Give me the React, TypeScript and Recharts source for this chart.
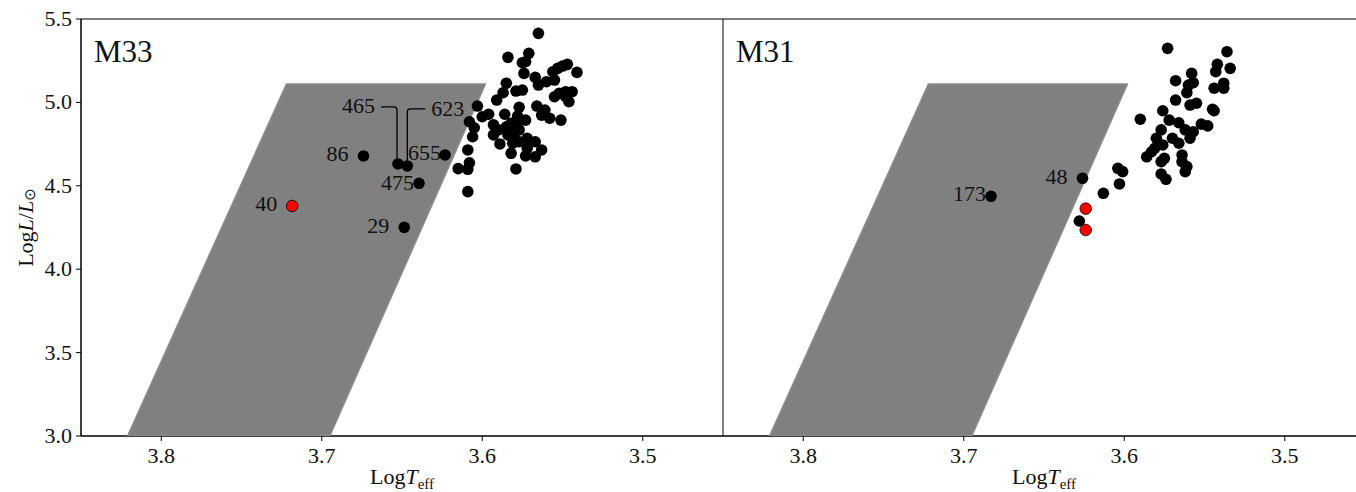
import React from 'react';
import { ScatterChart, Scatter, XAxis, YAxis, Customized, ReferenceArea } from 'recharts';

const xTicks = [3.8, 3.7, 3.6, 3.5];
const yTicks = [3.0, 3.5, 4.0, 4.5, 5.0, 5.5];
const xDomain: [number, number] = [3.45, 3.85];
const yDomain: [number, number] = [3.0, 5.5];

// grey band (vertices)
const bandTeff = [3.821, 3.722, 3.598, 3.695];
const bandLogL = [3.0, 5.11, 5.11, 3.0];

// M33
const m33ClusterTeff = [3.565, 3.584, 3.571, 3.575, 3.573, 3.574, 3.567, 3.565, 3.560, 3.556, 3.553, 3.550, 3.547, 3.541, 3.555, 3.585, 3.587, 3.579, 3.575, 3.591, 3.603, 3.600, 3.596, 3.577, 3.586, 3.578, 3.566, 3.561, 3.563, 3.558, 3.551, 3.555, 3.552, 3.548, 3.544, 3.546, 3.548, 3.608, 3.605, 3.606, 3.593, 3.593, 3.590, 3.585, 3.582, 3.579, 3.573, 3.584, 3.580, 3.577, 3.572, 3.589, 3.581, 3.582, 3.577, 3.567, 3.572, 3.573, 3.567, 3.563, 3.609, 3.608, 3.615, 3.609, 3.579, 3.609];
const m33ClusterLogL = [5.414, 5.270, 5.294, 5.238, 5.244, 5.174, 5.150, 5.104, 5.124, 5.184, 5.204, 5.218, 5.228, 5.180, 5.134, 5.115, 5.058, 5.068, 5.074, 5.014, 4.978, 4.914, 4.929, 4.971, 4.929, 4.918, 4.978, 4.954, 4.924, 4.905, 4.894, 5.034, 5.055, 5.064, 5.064, 5.004, 5.034, 4.884, 4.848, 4.794, 4.865, 4.805, 4.835, 4.854, 4.875, 4.865, 4.894, 4.805, 4.815, 4.835, 4.785, 4.751, 4.755, 4.695, 4.764, 4.764, 4.725, 4.679, 4.674, 4.715, 4.715, 4.638, 4.603, 4.599, 4.601, 4.465];
const m33LabeledNames = ['86', '465', '623', '655', '475', '29'];
const m33LabeledTeff = [3.674, 3.6525, 3.6467, 3.6232, 3.6394, 3.6486];
const m33LabeledLogL = [4.679, 4.631, 4.619, 4.685, 4.515, 4.251];
const m33RedNames = ['40'];
const m33RedTeff = [3.7184];
const m33RedLogL = [4.379];

// M31
const m31ClusterTeff = [3.573, 3.536, 3.542, 3.543, 3.534, 3.558, 3.557, 3.560, 3.568, 3.538, 3.544, 3.538, 3.561, 3.568, 3.559, 3.555, 3.545, 3.544, 3.576, 3.590, 3.572, 3.566, 3.562, 3.552, 3.548, 3.557, 3.577, 3.580, 3.581, 3.576, 3.583, 3.586, 3.570, 3.566, 3.559, 3.577, 3.575, 3.564, 3.564, 3.561, 3.562, 3.577, 3.574, 3.604, 3.601, 3.603, 3.613, 3.628];
const m31ClusterLogL = [5.324, 5.304, 5.228, 5.184, 5.204, 5.174, 5.118, 5.104, 5.130, 5.115, 5.085, 5.085, 5.058, 5.014, 4.984, 4.995, 4.959, 4.950, 4.950, 4.899, 4.894, 4.878, 4.835, 4.870, 4.859, 4.824, 4.835, 4.785, 4.725, 4.745, 4.704, 4.674, 4.785, 4.755, 4.785, 4.645, 4.665, 4.685, 4.645, 4.615, 4.585, 4.571, 4.539, 4.605, 4.585, 4.511, 4.455, 4.289];
const m31LabeledNames = ['173', '48'];
const m31LabeledTeff = [3.683, 3.626];
const m31LabeledLogL = [4.437, 4.545];
const m31RedNames = ['', ''];
const m31RedTeff = [3.624, 3.624];
const m31RedLogL = [4.363, 4.235];

type Pt = { teff: number; logL: number; name?: string };
const zip = (t: number[], l: number[], n?: string[]): Pt[] =>
  t.map((v, i) => ({ teff: v, logL: l[i], name: n ? n[i] : undefined }));

const bandData = zip(bandTeff, bandLogL);

const FONT = '"Liberation Serif", "DejaVu Serif", serif';
const serifStyle = { fontFamily: FONT };

// label placement (style, relative to the point)
const labelStyle: Record<string, { anchor: 'end' | 'start'; dx: number; dy: number; connector?: 'left' | 'right' }> = {
  '86': { anchor: 'end', dx: -15, dy: -2 },
  '29': { anchor: 'end', dx: -15, dy: -2 },
  '40': { anchor: 'end', dx: -15, dy: -2 },
  '48': { anchor: 'end', dx: -15, dy: -2 },
  '475': { anchor: 'end', dx: -5, dy: -1 },
  '655': { anchor: 'end', dx: -4, dy: -2 },
  '173': { anchor: 'end', dx: -5, dy: -3 },
  '465': { anchor: 'end', dx: -23, dy: -58, connector: 'left' },
  '623': { anchor: 'start', dx: 24, dy: -57, connector: 'right' },
};

const makeDot = (fill: string, stroke: string, sw: number) => (props: any) => {
  const { cx, cy, payload } = props;
  if (cx == null || cy == null) return <g />;
  const name: string | undefined = payload?.name;
  const st = name ? labelStyle[name] : undefined;
  let conn: React.ReactNode = null;
  if (st?.connector === 'left') {
    const y = cy - 57;
    conn = <path d={`M${cx - 17},${y} H${cx - 4} Q${cx - 1},${y} ${cx - 1},${y + 3} V${cy}`} stroke="#000" fill="none" strokeWidth={1.3} />;
  } else if (st?.connector === 'right') {
    const y = cy - 57;
    conn = <path d={`M${cx + 18},${y} H${cx + 3} Q${cx},${y} ${cx},${y + 3} V${cy}`} stroke="#000" fill="none" strokeWidth={1.3} />;
  }
  return (
    <g>
      {conn}
      <circle cx={cx} cy={cy} r={5.8} fill={fill} stroke={stroke} strokeWidth={sw} />
      {st && (
        <text x={cx + st.dx} y={cy + st.dy} textAnchor={st.anchor} dominantBaseline="central" fontSize={22} fontFamily={FONT} style={serifStyle} fill="#111">
          {name}
        </text>
      )}
    </g>
  );
};

const blackDot = makeDot('#000', '#000', 0);
const redDot = makeDot('#ff0000', '#000', 0.8);

const bandLine = (props: any) => {
  const pts: { x: number; y: number }[] = props.points || [];
  if (!pts.length) return <g />;
  const d = pts.map((p, i) => `${i ? 'L' : 'M'}${p.x},${p.y}`).join(' ') + ' Z';
  return <path d={d} fill="#808080" stroke="#8c8c8c" strokeWidth={1.5} strokeLinejoin="round" />;
};

const XLabel = (props: any) => {
  const vb = props.viewBox || {};
  return (
    <text x={vb.x + vb.width / 2} y={vb.y + 48} textAnchor="middle" fontFamily={FONT} style={serifStyle} fontSize={22} fill="#111">
      Log<tspan fontStyle="italic">T</tspan>
      <tspan fontSize={15} dy={5}>eff</tspan>
    </text>
  );
};

const YLabel = (props: any) => {
  const vb = props.viewBox || {};
  const cx = vb.x + 25;
  const cy = vb.y + vb.height / 2;
  return (
    <text x={cx} y={cy} transform={`rotate(-90, ${cx}, ${cy})`} textAnchor="middle" dominantBaseline="central" fontFamily={FONT} style={serifStyle} fontSize={22} fill="#111">
      Log<tspan fontStyle="italic">L</tspan>/<tspan fontStyle="italic">L</tspan>
      <tspan fontSize={15} dy={5} style={{ fontFamily: '"DejaVu Sans", sans-serif' }}>⊙</tspan>
    </text>
  );
};

const XTick = (props: any) => {
  const { x, y, payload } = props;
  return (
    <g>
      <text x={x} y={y} dy={17} textAnchor="middle" style={{ fontFamily: FONT, fontSize: 22, fill: '#111' }}>
        {Number(payload.value).toFixed(1)}
      </text>
    </g>
  );
};

const YTick = (props: any) => {
  const { x, y, payload } = props;
  return (
    <g>
      <text x={x} y={y} dy={7} textAnchor="end" style={{ fontFamily: FONT, fontSize: 22, fill: '#111' }}>
        {Number(payload.value).toFixed(1)}
      </text>
    </g>
  );
};

type PanelProps = {
  title: string;
  width: number;
  showY: boolean;
  cluster: Pt[];
  labeled: Pt[];
  red: Pt[];
};

const Panel = ({ title, width, showY, cluster, labeled, red }: PanelProps) => (
  <ScatterChart width={width} height={492} margin={{ top: 19, right: 0, bottom: 0, left: 0 }}>
    <XAxis
      xAxisId="b"
      type="number"
      dataKey="teff"
      domain={xDomain}
      reversed
      ticks={xTicks}
      allowDataOverflow
      height={56}
      tickSize={5}
      tickMargin={5}
      tick={<XTick />}
      axisLine={{ stroke: '#000', strokeWidth: 1 }}
      tickLine={{ stroke: '#000' }}
      label={{ content: <XLabel /> } as any}
    />
    <YAxis
      yAxisId="l"
      type="number"
      dataKey="logL"
      domain={yDomain}
      ticks={yTicks}
      allowDataOverflow
      width={showY ? 81 : 0}
      tickSize={showY ? 5 : 0}
      tickMargin={4}
      tick={showY ? <YTick /> : false}
      tickLine={showY ? { stroke: '#000' } : false}
      axisLine={{ stroke: '#000', strokeWidth: 1 }}
      label={showY ? ({ content: <YLabel /> } as any) : undefined}
    />
    <Scatter
      xAxisId="b"
      yAxisId="l"
      data={bandData}
      line={bandLine as any}
      lineType="joint"
      shape={() => <g />}
      isAnimationActive={false}
    />
    <Scatter xAxisId="b" yAxisId="l" data={cluster} shape={blackDot} isAnimationActive={false} />
    <Scatter xAxisId="b" yAxisId="l" data={labeled} shape={blackDot} isAnimationActive={false} />
    <Scatter xAxisId="b" yAxisId="l" data={red} shape={redDot} isAnimationActive={false} />
    <ReferenceArea
      xAxisId="b"
      yAxisId="l"
      x1={xDomain[1]}
      x2={xDomain[0]}
      y1={yDomain[0]}
      y2={yDomain[1]}
      fill="none"
      fillOpacity={0}
      stroke="#000"
      strokeWidth={1}
      strokeOpacity={1}
      ifOverflow="visible"
    />
    <Customized
      component={() => (
        <text x={showY ? 94 : 13} y={62} fontFamily={FONT} style={serifStyle} fontSize={31} fill="#111">
          {title}
        </text>
      )}
    />
  </ScatterChart>
);

export default function App() {
  return (
    <div
      style={{
        position: 'fixed',
        left: 0,
        top: 0,
        width: 1356,
        height: 492,
        overflow: 'hidden',
        background: '#fff',
        display: 'flex',
      }}
    >
      <div style={{ flex: '0 0 auto', width: 723 }}>
        <Panel
          title="M33"
          width={723}
          showY
          cluster={zip(m33ClusterTeff, m33ClusterLogL)}
          labeled={zip(m33LabeledTeff, m33LabeledLogL, m33LabeledNames)}
          red={zip(m33RedTeff, m33RedLogL, m33RedNames)}
        />
      </div>
      <div style={{ flex: '0 0 auto', width: 642 }}>
        <Panel
          title="M31"
          width={642}
          showY={false}
          cluster={zip(m31ClusterTeff, m31ClusterLogL)}
          labeled={zip(m31LabeledTeff, m31LabeledLogL, m31LabeledNames)}
          red={zip(m31RedTeff, m31RedLogL, m31RedNames)}
        />
      </div>
    </div>
  );
}
